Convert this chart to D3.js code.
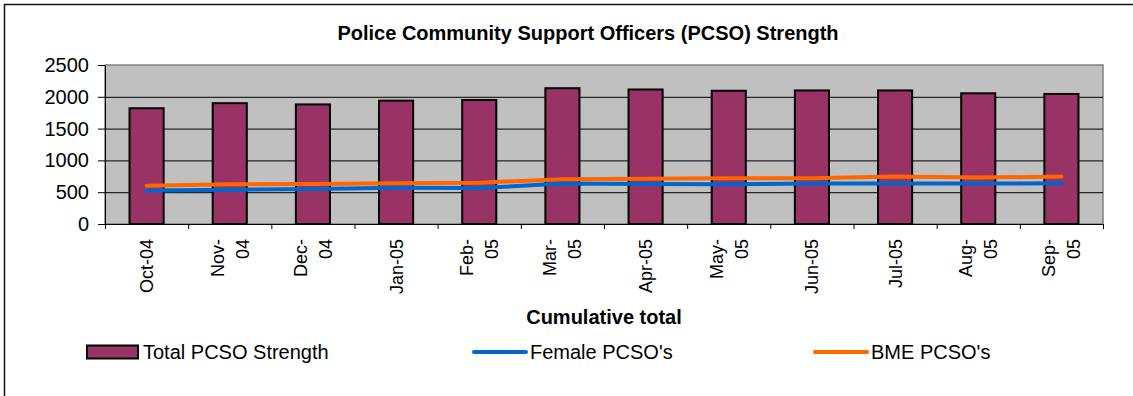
<!DOCTYPE html>
<html>
  <head>
    <title>PCSO Strength</title>
    <script src="https://d3js.org/d3.v7.min.js"></script>
    <style>
      body {
        margin: 0;
        background-color: white;
      }
      svg text {
        font-family: "Liberation Sans", Arial, sans-serif;
        fill: black;
      }
      .axis path,
      .axis line {
        stroke: black;
      }
    </style>
  </head>
  <body>
    <script>
      // chart data
      const months = ['Oct-04', 'Nov-04', 'Dec-04', 'Jan-05', 'Feb-05', 'Mar-05',
                      'Apr-05', 'May-05', 'Jun-05', 'Jul-05', 'Aug-05', 'Sep-05'];
      const monthLabels = [['Oct-04'], ['Nov-', '04'], ['Dec-', '04'], ['Jan-05'], ['Feb-', '05'], ['Mar-', '05'],
                           ['Apr-05'], ['May-', '05'], ['Jun-05'], ['Jul-05'], ['Aug-', '05'], ['Sep-', '05']];
      const totalStrength = [1820, 1900, 1880, 1940, 1950, 2135, 2115, 2095, 2100, 2100, 2055, 2045];
      const femalePcso = [525, 540, 550, 570, 565, 635, 630, 625, 635, 635, 635, 640];
      const bmePcso = [600, 625, 630, 640, 650, 705, 710, 720, 720, 745, 730, 745];
      const yTicks = [0, 500, 1000, 1500, 2000, 2500];

      const w = 1133;
      const h = 396;
      const plot = {left: 105, right: 1103, top: 65, bottom: 224};

      const svg = d3.select('body')
                    .append('svg')
                    .attr('width', w)
                    .attr('height', h);

      // outer chart border (right/bottom fall outside the crop)
      svg.append('rect')
         .attr('x', 4.5)
         .attr('y', 4.5)
         .attr('width', w + 20)
         .attr('height', h + 20)
         .attr('fill', 'white')
         .attr('stroke', '#111')
         .attr('stroke-width', 1.5);

      const x = d3.scaleBand()
                  .domain(months)
                  .range([plot.left, plot.right])
                  .paddingInner(0.59)
                  .paddingOuter(0.295);

      const xEdges = d3.scaleLinear()
                       .domain([0, months.length])
                       .range([plot.left, plot.right]);

      const y = d3.scaleLinear()
                  .domain([0, 2500])
                  .range([plot.bottom, plot.top]);

      // plot background
      svg.append('rect')
         .attr('x', plot.left)
         .attr('y', plot.top)
         .attr('width', plot.right - plot.left)
         .attr('height', plot.bottom - plot.top)
         .attr('fill', '#c0c0c0')
         .attr('stroke', '#808080')
         .attr('stroke-width', 1.5);

      // gridlines
      svg.append('g')
         .attr('transform', `translate(${plot.left}, 0)`)
         .call(d3.axisLeft(y).tickValues(yTicks.slice(1, -1)).tickSize(-(plot.right - plot.left)).tickFormat(''))
         .call(g => g.select('.domain').remove())
         .selectAll('line')
         .attr('stroke', 'black');

      // bars
      svg.selectAll('rect.bar')
         .data(totalStrength)
         .enter()
         .append('rect')
         .attr('class', 'bar')
         .attr('x', (d, i) => x(months[i]))
         .attr('y', d => y(d))
         .attr('width', x.bandwidth())
         .attr('height', d => y(0) - y(d))
         .attr('fill', '#993366')
         .attr('stroke', 'black')
         .attr('stroke-width', 2);

      // lines
      const line = d3.line()
                     .x((d, i) => x(months[i]) + x.bandwidth() / 2)
                     .y(d => y(d));

      svg.append('path')
         .datum(femalePcso)
         .attr('d', line)
         .attr('fill', 'none')
         .attr('stroke', '#0066cc')
         .attr('stroke-width', 4)
         .attr('stroke-linecap', 'round');

      svg.append('path')
         .datum(bmePcso)
         .attr('d', line)
         .attr('fill', 'none')
         .attr('stroke', '#ff6600')
         .attr('stroke-width', 4)
         .attr('stroke-linecap', 'round');

      // y axis
      const yAxis = svg.append('g')
                       .attr('class', 'axis')
                       .attr('transform', `translate(${plot.left}, 0)`)
                       .call(d3.axisLeft(y).tickValues(yTicks).tickFormat(d3.format('d'))
                               .tickSize(7).tickPadding(9).tickSizeOuter(0));
      yAxis.selectAll('text')
           .style('font-size', '20px')
           .style('font-family', '"Liberation Sans", Arial, sans-serif')
           .attr('fill', 'black');

      // x axis ticks at category edges
      svg.append('g')
         .attr('class', 'axis')
         .attr('transform', `translate(0, ${plot.bottom})`)
         .call(d3.axisBottom(xEdges).tickValues(d3.range(months.length + 1)).tickSize(5).tickSizeOuter(0).tickFormat(''));

      // rotated month labels
      const lineGap = 25;
      const labels = svg.append('g')
                        .selectAll('text')
                        .data(monthLabels)
                        .enter()
                        .append('text')
                        .attr('transform', (d, i) => `translate(${x(months[i]) + x.bandwidth() / 2}, 239) rotate(-90)`)
                        .attr('text-anchor', 'end')
                        .style('font-size', '18px');
      labels.each(function(d) {
        const t = d3.select(this);
        d.forEach((s, k) => {
          t.append('tspan')
           .attr('x', 0)
           .attr('y', 6.5 + (k - (d.length - 1) / 2) * lineGap)
           .text(s);
        });
      });

      // title and axis title
      svg.append('text')
         .attr('x', 588)
         .attr('y', 40)
         .attr('text-anchor', 'middle')
         .style('font-size', '20px')
         .style('font-weight', 'bold')
         .text('Police Community Support Officers (PCSO) Strength');

      svg.append('text')
         .attr('x', (plot.left + plot.right) / 2)
         .attr('y', 324)
         .attr('text-anchor', 'middle')
         .style('font-size', '20px')
         .style('font-weight', 'bold')
         .text('Cumulative total');

      // legend
      const legendY = 352;
      svg.append('rect')
         .attr('x', 87)
         .attr('y', legendY - 6.5)
         .attr('width', 51)
         .attr('height', 13)
         .attr('fill', '#993366')
         .attr('stroke', 'black')
         .attr('stroke-width', 2);
      svg.append('text')
         .attr('x', 143)
         .attr('y', legendY + 7)
         .style('font-size', '20px')
         .text('Total PCSO Strength');

      svg.append('line')
         .attr('x1', 474).attr('x2', 526)
         .attr('y1', legendY).attr('y2', legendY)
         .attr('stroke', '#0066cc')
         .attr('stroke-width', 4)
         .attr('stroke-linecap', 'round');
      svg.append('text')
         .attr('x', 530)
         .attr('y', legendY + 7)
         .style('font-size', '20px')
         .text("Female PCSO's");

      svg.append('line')
         .attr('x1', 815).attr('x2', 867)
         .attr('y1', legendY).attr('y2', legendY)
         .attr('stroke', '#ff6600')
         .attr('stroke-width', 4)
         .attr('stroke-linecap', 'round');
      svg.append('text')
         .attr('x', 871)
         .attr('y', legendY + 7)
         .style('font-size', '20px')
         .text("BME PCSO's");
    </script>
  </body>
</html>
